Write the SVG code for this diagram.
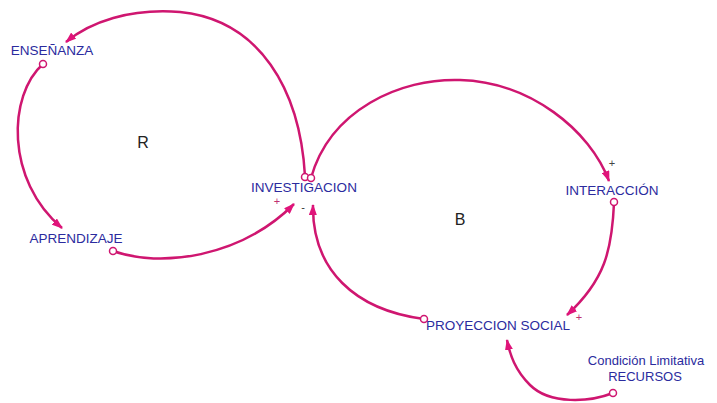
<svg xmlns="http://www.w3.org/2000/svg" width="717" height="403" viewBox="0 0 717 403">
<style>
.lbl{font-family:"Liberation Sans",Arial,sans-serif;font-size:13.5px;fill:#2b2b9e;text-anchor:middle}
.loop{font-family:"Liberation Sans",Arial,sans-serif;font-size:16px;fill:#222;text-anchor:middle}
.sgn{font-family:"Liberation Sans",Arial,sans-serif;font-size:11px;fill:#c03070;text-anchor:middle}
.lnk{fill:none;stroke:#cf1670;stroke-width:2.5;marker-end:url(#ah)}
.tail{fill:#fff;stroke:#cf1670;stroke-width:1.5}
</style>
<defs>
<marker id="ah" markerUnits="userSpaceOnUse" markerWidth="11" markerHeight="8" refX="10" refY="4" orient="auto">
<path d="M0,0 L11,4 L0,8 z" fill="#e0147a"/>
</marker>
</defs>
<rect width="717" height="403" fill="#fff"/>
<g id="connectors">
<path class="lnk" d="M305,176 C300,90 260,20 180,12 C130,8 90,22 66,42"/>
<path class="lnk" d="M43,64 C8,95 5,180 62,228"/>
<path class="lnk" d="M113,251 C160,268 240,258 294,204"/>
<path class="lnk" d="M311,178 C330,110 400,78 460,80 C530,82 590,130 609,181"/>
<path class="lnk" d="M614,203 C612,250 605,280 567,315"/>
<path class="lnk" d="M424,319 C355,310 312,270 313,205"/>
<path class="lnk" d="M613,393 C590,402 550,405 530,385 C515,370 510,355 507,340"/>
<circle class="tail" cx="305" cy="177" r="3.5"/>
<circle class="tail" cx="311" cy="178" r="3.5"/>
<circle class="tail" cx="43" cy="64" r="3.5"/>
<circle class="tail" cx="113" cy="251" r="3.5"/>
<circle class="tail" cx="614" cy="202" r="3.5"/>
<circle class="tail" cx="424" cy="319" r="3.5"/>
<circle class="tail" cx="613" cy="393" r="3.5"/>
<text class="sgn" x="277" y="205">+</text>
<text class="sgn" x="303" y="211" style="fill:#333">-</text>
<text class="sgn" x="612" y="167" style="fill:#444">+</text>
<text class="sgn" x="579" y="321">+</text>
</g>
<g id="loop-R"><text class="loop" x="143" y="148">R</text></g>
<g id="loop-B"><text class="loop" x="460" y="225">B</text></g>
<g id="ensenanza"><text class="lbl" x="52" y="55">ENSEÑANZA</text></g>
<g id="aprendizaje"><text class="lbl" x="76" y="243">APRENDIZAJE</text></g>
<g id="investigacion"><text class="lbl" x="304" y="192">INVESTIGACION</text></g>
<g id="interaccion"><text class="lbl" x="612" y="195">INTERACCIÓN</text></g>
<g id="proyeccion"><text class="lbl" x="498" y="330">PROYECCION SOCIAL</text></g>
<g id="recursos">
<text class="lbl" x="646" y="365" style="font-size:13px">Condición Limitativa</text>
<text class="lbl" x="645" y="381" style="font-size:13px">RECURSOS</text>
</g>
</svg>
